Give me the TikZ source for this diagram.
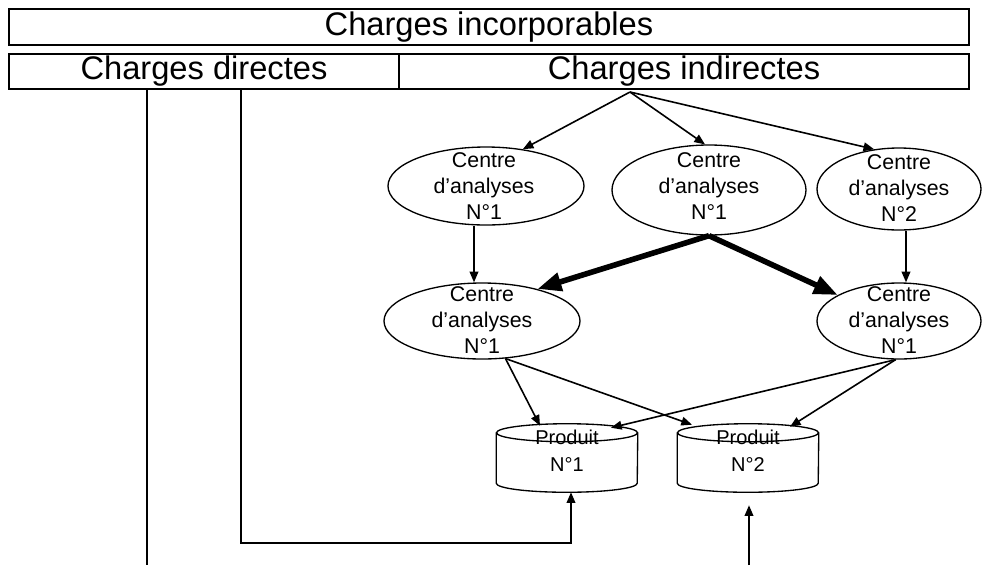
\documentclass[tikz,border=0pt]{standalone}
\usepackage{fontspec}
\setmainfont{Liberation Sans}
\usetikzlibrary{arrows.meta,shapes.geometric,calc}
\begin{document}
\begin{tikzpicture}[x=0.75pt,y=-0.75pt,
  hdr/.style={draw,line width=1.5pt,inner sep=0pt,anchor=north west,font=\fontsize{24.5}{28}\selectfont},
  cell/.style={draw,ellipse,line width=1pt,inner sep=0pt},
  celltext/.style={align=center,inner sep=0pt,font=\fontsize{16}{19.5}\selectfont},
  prod/.style={inner sep=0pt,minimum width=141*0.75pt,minimum height=68*0.75pt},
  prodtext/.style={align=center,inner sep=0pt,font=\fontsize{15}{20.5}\selectfont},
  link/.style={line width=1.2pt,-{Triangle[length=8pt,width=6.5pt]}},
  heavy/.style={line width=4.2pt,-{Triangle[length=18pt,width=13.5pt]}},
  feed/.style={line width=1.2pt},
  cylline/.style={line width=1pt},
]
\useasboundingbox[fill=white] (0,0) rectangle (1004,565);

% header bands
\node[hdr,minimum width=960*0.75pt,minimum height=36*0.75pt] (inc) at (8,8) {Charges incorporables};
\node[hdr,minimum width=390*0.75pt,minimum height=35*0.75pt] (dir) at (8,53) {Charges directes};
\node[hdr,minimum width=570*0.75pt,minimum height=35*0.75pt] (ind) at (398,53) {Charges indirectes};

% analysis centres
\node[cell,minimum width=196*0.75pt,minimum height=78*0.75pt] (e1) at (486,186) {};
\node[cell,minimum width=194*0.75pt,minimum height=90*0.75pt] (e2) at (709,190) {};
\node[cell,minimum width=164*0.75pt,minimum height=82*0.75pt] (e3) at (899,189) {};
\node[cell,minimum width=196*0.75pt,minimum height=76*0.75pt] (e4) at (482,321) {};
\node[cell,minimum width=164*0.75pt,minimum height=76*0.75pt] (e5) at (899,321) {};

\node[celltext] (t1) at (484,186) {Centre\\d’analyses\\N°1};
\node[celltext] (t2) at (709,186) {Centre\\d’analyses\\N°1};
\node[celltext] (t3) at (899,188) {Centre\\d’analyses\\N°2};
\node[celltext] (t4) at (482,320) {Centre\\d’analyses\\N°1};
\node[celltext] (t5) at (899,320) {Centre\\d’analyses\\N°1};

% products (cylinders)
\node[prod] (p1) at (567,458) {};
\node[prod] (p2) at (748,458) {};
\foreach \p in {p1,p2}{
  \draw[cylline] ($(\p.north west)+(0,9)$) -- ($(\p.south west)+(0,-9)$)
     arc[start angle=180,end angle=360,x radius=70.5*0.75pt,y radius=9*0.75pt]
     -- ($(\p.north east)+(0,9)$);
  \draw[cylline] ($(\p.north)+(0,9)$) ellipse[x radius=70.5*0.75pt,y radius=9*0.75pt];
}
\node[prodtext] (t6) at ($(p1)+(0,-7)$) {Produit\\N°1};
\node[prodtext] (t7) at ($(p2)+(0,-7)$) {Produit\\N°2};

% distribution of indirect charges
\coordinate (src) at (630,92);
\draw[link] (src) -- (e1.45);
\draw[link] (src) -- (e2.95);
\draw[link] (src) -- (e3.122);

\coordinate (v1) at (474,0);
\coordinate (v2) at (906,0);
\draw[link] (e1.south -| v1) -- (e4.north -| v1);
\draw[link] (e3.south -| v2) -- (e5.north -| v2);

\draw[heavy] (e2.south) -- (e4.30);
\draw[heavy] (e2.south) -- (e5.157);

\draw[link] (e4.-58) -- ($(p1.north)+(-27,2)$);
\draw[link] (e4.-58) -- ($(p2.north)+(-56,1)$);
\draw[link] (e5.-95) -- ($(p1.north)+(44,4)$);
\draw[link] (e5.-95) -- ($(p2.north)+(42,3)$);

% direct charges
\coordinate (d1) at (147,88);
\coordinate (d1end) at (147,565);
\coordinate (d2) at (241,88);
\coordinate (c1) at (571,543);
\coordinate (c2) at (749,565);
\draw[feed] (d1) -- (d1end);
\draw[link] (d2) |- (c1) -- (p1.south -| c1);
\draw[link] (c2) -- ($(p2.south)+(1,13)$);
\end{tikzpicture}
\end{document}
